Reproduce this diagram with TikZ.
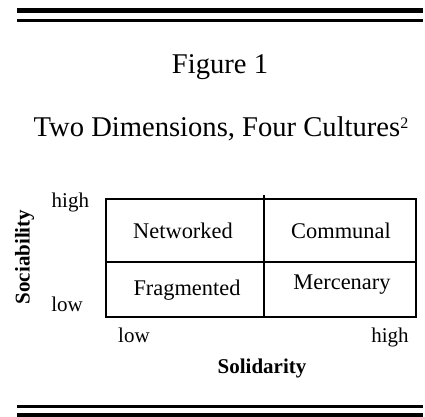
\documentclass[tikz,border=0pt]{standalone}
\usepackage{fontspec}
\setmainfont{Liberation Serif}

% small raised footnote mark
\newcommand{\fnmark}[1]{\raisebox{4.4pt}{\fontsize{8}{8}\selectfont #1}}

\begin{document}
\begin{tikzpicture}[
    x=0.5pt, y=-0.5pt,
    title/.style={font=\fontsize{14.3}{16}\selectfont, anchor=base, inner sep=0pt},
    cell/.style={font=\fontsize{11.2}{13}\selectfont, anchor=base, inner sep=0pt},
    tick/.style={font=\fontsize{10.5}{12}\selectfont, anchor=base, inner sep=0pt},
    axis/.style={font=\fontsize{10.5}{12}\selectfont\bfseries, inner sep=0pt},
    grid/.style={line width=1pt},
    thickrule/.style={line width=2.5pt},
    thinrule/.style={line width=1.25pt}
  ]
    \useasboundingbox (0,0) rectangle (425,417);

    % double rules top and bottom
    \coordinate (r1l) at (17,10.7);  \coordinate (r1r) at (423,10.7);
    \coordinate (r2l) at (17,20.3);  \coordinate (r2r) at (423,20.3);
    \coordinate (r3l) at (17,406.3); \coordinate (r3r) at (423,406.3);
    \coordinate (r4l) at (17,415.3); \coordinate (r4r) at (423,415.3);
    \draw[thickrule] (r1l) -- (r1r);
    \draw[thinrule] (r2l) -- (r2r);
    \draw[thinrule] (r3l) -- (r3r);
    \draw[thickrule] (r4l) -- (r4r);

    \node[title] (fig) at (220,74) {Figure 1};
    \node[title] (sub) at (221,137) {Two Dimensions, Four Cultures\fnmark{2}};

    % the 2x2 table
    \coordinate (nw) at (106,199);
    \coordinate (se) at (416,317);
    \coordinate (w) at (106,262);
    \coordinate (e) at (416,262);
    \coordinate (n) at (264,195);
    \coordinate (s) at (264,317);
    \draw[grid] (nw) rectangle (se);
    \draw[grid] (w) -- (e);
    \draw[grid] (n) -- (s);

    \node[cell] (net) at (183,239) {Networked};
    \node[cell] (com) at (341,239) {Communal};
    \node[cell] (frag) at (187,296) {Fragmented};
    \node[cell] (merc) at (342,290) {Mercenary};

    % axis labels
    \node[tick] (yhigh) at (70.4,208) {high};
    \node[tick] (ylow) at (67,312) {low};
    \node[tick] (xlow) at (134,343) {low};
    \node[tick] (xhigh) at (390,343) {high};
    \node[axis, rotate=90] (soc) at (24.5,257) {Sociability};
    \node[axis, anchor=base] (sol) at (262,374) {Solidarity};
  \end{tikzpicture}
\end{document}
